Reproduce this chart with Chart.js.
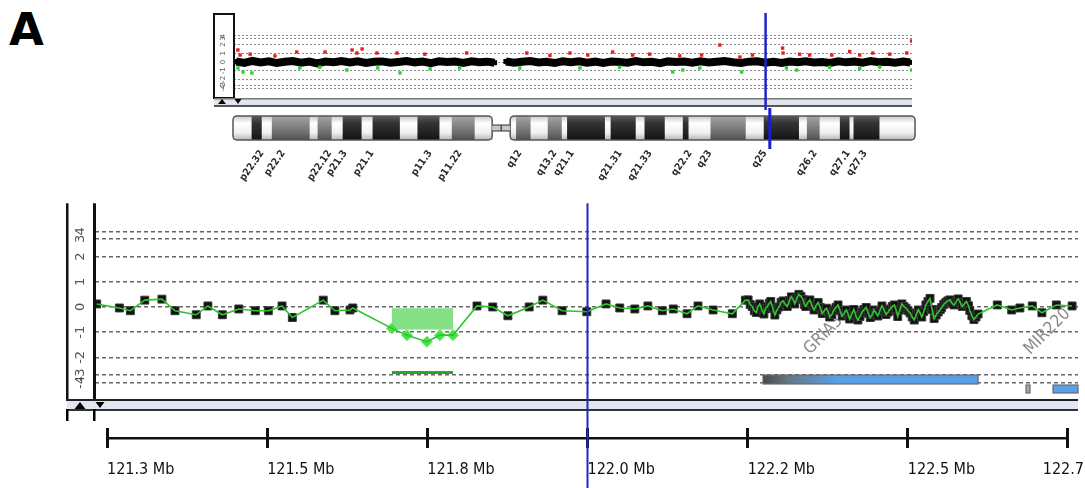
<!DOCTYPE html>
<html>
<head>
<meta charset="utf-8">
<script src="https://cdn.jsdelivr.net/npm/chart.js@4.4.1/dist/chart.umd.min.js"></script>
<style>
  html, body { margin: 0; padding: 0; background: #fff; overflow: hidden; width: 1085px; height: 488px; }
  .abs { position: absolute; }
  #panel { left: 9px; top: 3px; font: bold 45px "DejaVu Sans", sans-serif; color: #000; }
</style>
</head>
<body>
<div id="panel" class="abs">A</div>
<canvas id="overview" class="abs" width="1085" height="110" style="left:0;top:0"></canvas>
<canvas id="ideogram" class="abs" width="1085" height="80" style="left:0;top:108px"></canvas>
<canvas id="detail" class="abs" width="1200" height="300" style="left:0;top:188px"></canvas>
<script>
Chart.defaults.font.family = '"DejaVu Sans", sans-serif';
Chart.defaults.animation = false;

// log ratio axis ticks
var logTicks = [-4, -3, -2, -1, 0, 1, 2, 3, 4];
var logTickLabels = ['-4', '-3', '-2', '-1', '0', '1', '2', '3', '4'];

// whole chromosome X (Mb) - overview
var bandMb = [0.5, 2.4, 4.2, 6.1, 8.0, 9.8, 11.7, 13.5, 15.4, 17.3, 19.1, 21.0, 22.9, 24.7, 26.6, 28.4, 30.3, 32.2, 34.0, 35.9, 37.7, 39.6, 41.5, 43.3, 45.2, 47.0, 48.9, 50.8, 52.6, 54.5, 56.3, 58.2, 59.8,
  61.0,
  62.4, 64.3, 66.1, 68.0, 69.9, 71.7, 73.6, 75.4, 77.3, 79.2, 81.0, 82.9, 84.7, 86.6, 88.5, 90.3, 92.2, 94.0, 95.9, 97.8, 99.6, 101.5, 103.3, 105.2, 107.1, 108.9, 110.8, 112.6, 114.5, 116.4, 118.2, 120.1, 121.9, 123.8, 125.7, 127.5, 129.4, 131.2, 133.1, 135.0, 136.8, 138.7, 140.5, 142.4, 144.3, 146.1, 148.0, 149.8, 151.7, 153.6, 155.2];
var bandLog = [0.05, -0.10, 0.12, -0.05, 0.08, -0.12, 0.02, 0.10, -0.08, 0.04, -0.15, 0.06, -0.02, 0.12, -0.06, 0.09, -0.11, 0.03, 0.07, -0.09, 0.01, 0.11, -0.04, 0.06, -0.13, 0.08, -0.01, 0.05, -0.10, 0.09, -0.03, 0.04, -0.08,
  null,
  0.06, -0.09, 0.03, 0.10, -0.05, 0.02, -0.12, 0.07, -0.02, 0.09, -0.07, 0.04, -0.11, 0.06, 0.01, -0.08, 0.10, -0.04, 0.03, -0.13, 0.07, -0.01, 0.05, -0.09, 0.08, -0.06, 0.02, 0.11, -0.03, -0.10, 0.04, 0.08, -0.07, 0.03, -0.12, 0.06, -0.02, 0.09, -0.05, 0.01, -0.10, 0.07, -0.04, 0.05, -0.08, 0.10, -0.03, 0.02, -0.09, 0.06, -0.05];
var gainMb = [0.9, 1.4, 3.7, 9.4, 14.4, 20.9, 27.1, 28.2, 29.4, 32.8, 37.4, 43.8, 53.4, 67.2, 72.5, 77.1, 81.2, 86.9, 91.5, 95.4, 102.3, 107.3, 111.5, 116.1, 119.0, 125.9, 126.0, 129.8, 132.1, 137.2, 141.3, 143.6, 146.6, 150.5, 154.4, 155.5];
var gainLog = [1.38, 0.8, 0.9, 0.7, 1.15, 1.15, 1.38, 1.03, 1.5, 1.03, 1.03, 0.9, 1.03, 1.03, 0.75, 1.03, 0.8, 1.15, 0.8, 0.9, 0.7, 0.8, 1.95, 0.57, 0.8, 1.6, 1.03, 0.9, 0.8, 0.8, 1.2, 0.8, 1.03, 0.9, 1.03, 2.6];
var lossMb = [0.9, 2.1, 4.1, 15.1, 19.7, 25.9, 33.0, 38.1, 45.0, 51.8, 65.6, 79.4, 88.5, 100.7, 103.0, 106.9, 116.5, 126.8, 129.1, 136.7, 143.6, 148.2, 155.5];
var lossLog = [-0.69, -1.15, -1.26, -0.69, -0.6, -0.92, -0.69, -1.26, -0.8, -0.69, -0.7, -0.69, -0.6, -1.15, -0.92, -0.7, -1.15, -0.69, -0.92, -0.6, -0.75, -0.57, -0.92];

// ideogram bands (Mb) and shade: 0 = gneg, 1 = gpos50, 2 = gpos100
var bandStart = [0, 4.3, 6.6, 8.9, 17.5, 19.3, 22.5, 25.0, 29.3, 31.8, 38.0, 42.0, 47.0, 49.8, 55.0,
  63.0, 64.4, 67.7, 71.6, 74.8, 76.0, 84.6, 85.9, 91.6, 93.6, 98.2, 102.3, 103.6, 108.6, 116.6, 120.7, 128.7, 130.5, 133.4, 138.0, 140.2, 141.1, 147.0];
var bandEnd = [4.3, 6.6, 8.9, 17.5, 19.3, 22.5, 25.0, 29.3, 31.8, 38.0, 42.0, 47.0, 49.8, 55.0, 58.9,
  64.4, 67.7, 71.6, 74.8, 76.0, 84.6, 85.9, 91.6, 93.6, 98.2, 102.3, 103.6, 108.6, 116.6, 120.7, 128.7, 130.5, 133.4, 138.0, 140.2, 141.1, 147.0, 155.0];
var bandShade = [0, 2, 0, 1, 0, 1, 0, 2, 0, 2, 0, 2, 0, 1, 0,
  0, 1, 0, 1, 0, 2, 0, 2, 0, 2, 0, 2, 0, 1, 0, 2, 0, 1, 0, 2, 0, 2, 0];
var armStart = [0, 63.0];
var armEnd = [58.9, 155.0];
var bandLabels = ['p22.32', 'p22.2', 'p22.12', 'p21.3', 'p21.1', 'p11.3', 'p11.22', 'q12', 'q13.2', 'q21.1', 'q21.31', 'q21.33', 'q22.2', 'q23', 'q25', 'q26.2', 'q27.1', 'q27.3'];
var bandLabelMb = [6.6, 11.4, 22.0, 25.5, 31.6, 44.8, 51.6, 65.2, 73.2, 77.1, 88.0, 94.8, 103.9, 108.4, 120.9, 132.3, 139.8, 143.7];
var cursorMb = 122.0;

// zoomed region (Mb) probes
var detailMb = [121.285, 121.318, 121.334, 121.355, 121.380, 121.399, 121.430, 121.447, 121.468, 121.492, 121.516, 121.535, 121.555, 121.570, 121.615, 121.632, 121.654, 121.658,
  121.715, 121.737, 121.766, 121.785, 121.804,
  121.839, 121.862, 121.884, 121.915, 121.935, 121.963, 121.999, 122.027, 122.047, 122.069, 122.088, 122.109, 122.125, 122.145, 122.161, 122.183, 122.211, 122.230,
  122.234, 122.237, 122.240, 122.243, 122.246, 122.248, 122.251, 122.254, 122.257, 122.259, 122.262, 122.265, 122.267, 122.270, 122.273, 122.276, 122.279, 122.282, 122.285, 122.288,
  122.291, 122.294, 122.297, 122.300, 122.302, 122.305, 122.308, 122.311, 122.314, 122.316, 122.318, 122.321, 122.324, 122.327, 122.330, 122.333, 122.336, 122.339, 122.342, 122.345,
  122.348, 122.351, 122.353, 122.356, 122.359, 122.362, 122.365, 122.368, 122.371, 122.374, 122.377, 122.380, 122.382, 122.385, 122.388, 122.391, 122.394, 122.397, 122.400, 122.403,
  122.406, 122.409, 122.412, 122.415, 122.417, 122.420, 122.423, 122.426, 122.429, 122.432, 122.435, 122.438, 122.441, 122.444, 122.447, 122.450, 122.452, 122.455, 122.458, 122.461,
  122.464, 122.467, 122.470, 122.473, 122.476, 122.479, 122.482, 122.485, 122.487, 122.490, 122.493, 122.496, 122.499, 122.502, 122.505, 122.508, 122.511, 122.514, 122.516, 122.519,
  122.522, 122.525, 122.528, 122.531, 122.534, 122.537, 122.540, 122.543, 122.546, 122.549, 122.552, 122.555, 122.557, 122.560, 122.563, 122.566, 122.569,
  122.597, 122.618, 122.630, 122.648, 122.662, 122.683, 122.706];
var detailLog = [0.12, -0.04, -0.15, 0.27, 0.31, -0.15, -0.31, 0.04, -0.31, -0.08, -0.15, -0.15, 0.04, -0.42, 0.27, -0.15, -0.12, -0.04,
  -0.85, -1.12, -1.38, -1.12, -1.12,
  0.04, 0.00, -0.35, 0.00, 0.27, -0.15, -0.19, 0.12, -0.04, -0.08, 0.04, -0.15, -0.08, -0.27, 0.04, -0.12, -0.27, 0.27,
  0.28, 0.10, 0.02, -0.15, -0.22, 0.00, 0.12, -0.10, -0.28, -0.08, 0.02, 0.15, 0.22, -0.05, -0.32, -0.12, 0.00, 0.18, 0.24, 0.10,
  0.02, 0.25, 0.40, 0.28, 0.12, 0.35, 0.50, 0.42, 0.30, 0.10, 0.02, 0.18, 0.28, 0.05, -0.12, 0.05, 0.18, -0.02, -0.26, -0.15,
  -0.05, -0.22, -0.40, -0.30, -0.12, -0.02, 0.08, -0.15, -0.36, -0.25, -0.12, -0.30, -0.48, -0.28, -0.10, -0.35, -0.52, -0.38, -0.20, -0.10,
  -0.02, -0.25, -0.42, -0.30, -0.12, -0.22, -0.36, -0.15, 0.04, -0.12, -0.30, -0.20, -0.08, 0.02, 0.08, -0.15, -0.38, -0.12, 0.12, 0.02,
  -0.05, -0.15, -0.24, -0.40, -0.52, -0.30, -0.12, -0.25, -0.40, -0.18, 0.08, 0.22, 0.34, -0.10, -0.46, -0.32, -0.20, -0.10, -0.02, 0.10,
  0.18, 0.24, 0.28, 0.15, 0.08, 0.20, 0.32, 0.18, 0.02, 0.12, 0.22, 0.05, -0.14, -0.35, -0.50, -0.40, -0.28,
  0.08, -0.12, -0.04, 0.04, -0.23, 0.08, 0.04];

// aberration call
var segStart = [121.715];
var segEnd = [121.804];
var segMean = [-0.9];

// genes
var geneName = ['GRIA3', 'MIR220', ''];
var geneStart = [122.2557, 122.6389, 122.6782];
var geneEnd = [122.569, 122.6447, 122.7146];
var geneLabelMb = [122.324, 122.645, null];
var geneRow = [0, 1, 1];

// ruler
var rulerTicks = [121.3, 121.5333, 121.7667, 122.0, 122.2333, 122.4667, 122.7];
var rulerLabels = ['121.3 Mb', '121.5 Mb', '121.8 Mb', '122.0 Mb', '122.2 Mb', '122.5 Mb', '122.7 Mb'];

var condensed = '"DejaVu Sans Condensed", "DejaVu Sans", sans-serif';
var viewWidth = 1085;

// compressed log-ratio display
function squash(v) {
    if (v === null) return null;
    var a = Math.abs(v), s;
    if (a <= 2) s = a;
    else if (a <= 3) s = 2 + (a - 2) * 0.7;
    else if (a <= 4) s = 2.7 + (a - 3) * 0.3;
    else s = 3.0 + (a - 4) * 0.1;
    return v < 0 ? -s : s;
}

function logAxis(min, max, width, fontSize, pad, dash, lw, color) {
    return {
        min: min, max: max,
        afterFit: function (s) { s.width = width; },
        afterBuildTicks: function (s) { s.ticks = logTicks.map(function (v) { return { value: squash(v) }; }); },
        ticks: {
            autoSkip: false, minRotation: 90, maxRotation: 90, crossAlign: 'center', padding: pad,
            font: { size: fontSize }, color: '#555',
            callback: function (v, i) { return logTickLabels[i]; }
        },
        grid: { drawTicks: false, color: color, lineWidth: lw },
        border: { display: false, dash: dash }
    };
}

function triangle(ctx, x, y, up, w, h) {
    ctx.beginPath();
    if (up) { ctx.moveTo(x - w / 2, y + h); ctx.lineTo(x + w / 2, y + h); ctx.lineTo(x, y); }
    else { ctx.moveTo(x - w / 2, y); ctx.lineTo(x + w / 2, y); ctx.lineTo(x, y + h); }
    ctx.closePath();
    ctx.fill();
}

//overview
var overviewDecor = {
    id: 'overviewDecor',
    afterDraw: function (chart) {
        var ctx = chart.ctx, a = chart.chartArea, x = chart.scales.x;
        ctx.save();
        ctx.strokeStyle = '#111';
        ctx.lineWidth = 2;
        ctx.strokeRect(214, a.top, a.left - 214, a.bottom - a.top);
        ctx.fillStyle = '#e1e5ee';
        ctx.fillRect(214, a.bottom + 1, a.right - 214, 7);
        ctx.fillStyle = '#777';
        ctx.fillRect(214, a.bottom, a.right - 214, 1.5);
        ctx.fillStyle = '#555';
        ctx.fillRect(214, a.bottom + 7, a.right - 214, 2);
        ctx.fillStyle = '#000';
        triangle(ctx, 222, a.bottom + 1, true, 8, 5);
        triangle(ctx, 238, a.bottom + 1, false, 7, 5);
        var cx = x.getPixelForValue(cursorMb);
        ctx.strokeStyle = '#2020cc';
        ctx.lineWidth = 2.5;
        ctx.beginPath(); ctx.moveTo(cx, a.top - 1); ctx.lineTo(cx, chart.height); ctx.stroke();
        ctx.restore();
    }
};

new Chart(document.getElementById('overview'), {
    type: 'scatter',
    data: {
        datasets: [{
            data: gainMb.map(function (m, i) { return { x: m, y: squash(gainLog[i]) }; }),
            pointStyle: 'rect', pointRadius: 2.4, pointBackgroundColor: '#e3201b', pointBorderWidth: 0, order: 0
        }, {
            data: lossMb.map(function (m, i) { return { x: m, y: squash(lossLog[i]) }; }),
            pointStyle: 'rect', pointRadius: 2.4, pointBackgroundColor: '#2ed22e', pointBorderWidth: 0, order: 0
        }, {
            data: bandMb.map(function (m, i) { return { x: m, y: squash(bandLog[i]) }; }),
            showLine: true, spanGaps: false, borderColor: '#000', borderWidth: 8,
            pointStyle: 'rect', pointRadius: 3.5, pointBackgroundColor: '#000', pointBorderWidth: 0, order: 1
        }]
    },
    options: {
        responsive: false,
        events: [],
        layout: { padding: { left: 214, right: 173, top: 14, bottom: 12 } },
        plugins: { legend: { display: false }, tooltip: { enabled: false } },
        scales: {
            x: { type: 'linear', min: 0, max: 155.6, display: false },
            y: logAxis(-4.14, 5.52, 20, 7, 7, [2, 2], 1, '#8a8a8a')
        }
    },
    plugins: [overviewDecor]
});

//ideogram
var shadeStops = [
    ['#c9c9c9', '#ffffff', '#f0f0f0', '#b5b5b5'],
    ['#a5a5a5', '#8c8c8c', '#6e6e6e', '#4e4e4e'],
    ['#5a5a5a', '#333333', '#222222', '#111111']
];
function bandFill(c) {
    var a = c.chart.chartArea;
    var st = shadeStops[bandShade[c.dataIndex]];
    if (!a) return st[1];
    var g = c.chart.ctx.createLinearGradient(0, a.top, 0, a.bottom);
    g.addColorStop(0, st[0]); g.addColorStop(0.3, st[1]); g.addColorStop(0.7, st[2]); g.addColorStop(1, st[3]);
    return g;
}

var ideoDecor = {
    id: 'ideoDecor',
    afterDatasetsDraw: function (chart) {
        var ctx = chart.ctx, a = chart.chartArea, x = chart.scales.x;
        ctx.save();
        ctx.strokeStyle = '#555';
        ctx.lineWidth = 1.5;
        armStart.forEach(function (s, i) {
            var x0 = x.getPixelForValue(s), x1 = x.getPixelForValue(armEnd[i]);
            ctx.beginPath();
            ctx.roundRect(x0, a.top, x1 - x0, a.bottom - a.top, 4);
            ctx.stroke();
        });
        var n0 = x.getPixelForValue(armEnd[0]), n1 = x.getPixelForValue(armStart[1]);
        var cy = (a.top + a.bottom) / 2;
        ctx.fillStyle = '#c8c8c8';
        ctx.fillRect(n0, cy - 3, n1 - n0, 6);
        ctx.strokeStyle = '#333';
        ctx.lineWidth = 1.2;
        ctx.beginPath();
        ctx.moveTo(n0, cy - 3); ctx.lineTo(n1, cy - 3);
        ctx.moveTo(n0, cy + 3); ctx.lineTo(n1, cy + 3);
        ctx.moveTo((n0 + n1) / 2, cy - 3); ctx.lineTo((n0 + n1) / 2, cy + 3);
        ctx.stroke();
        var cx = x.getPixelForValue(cursorMb);
        ctx.strokeStyle = '#1d1dd2';
        ctx.lineWidth = 3;
        ctx.beginPath(); ctx.moveTo(cx, 0); ctx.lineTo(cx, a.bottom + 9); ctx.stroke();
        ctx.restore();
    }
};

new Chart(document.getElementById('ideogram'), {
    type: 'bar',
    data: {
        labels: ['X'],
        datasets: [{
            data: bandStart.map(function (s, i) { return { x: [s, bandEnd[i]], y: 'X' }; }),
            backgroundColor: bandFill, borderWidth: 0, barPercentage: 1, categoryPercentage: 1
        }]
    },
    options: {
        indexAxis: 'y',
        responsive: false,
        events: [],
        layout: { padding: { left: 233, right: 170, top: 8, bottom: 6 } },
        plugins: { legend: { display: false }, tooltip: { enabled: false } },
        scales: {
            x: {
                type: 'linear', min: 0, max: 155,
                afterFit: function (s) { s.height = 42; },
                afterBuildTicks: function (s) { s.ticks = bandLabelMb.map(function (v) { return { value: v }; }); },
                ticks: {
                    autoSkip: false, minRotation: 55, maxRotation: 55, padding: 0,
                    font: { size: 10, weight: 'bold', family: condensed }, color: '#2a2a2a',
                    callback: function (v, i) { return bandLabels[i]; }
                },
                grid: { display: false },
                border: { display: false }
            },
            y: { type: 'category', display: false }
        }
    },
    plugins: [ideoDecor]
});

//detail
function inSeg(m) {
    for (var i = 0; i < segStart.length; i++) {
        if (m >= segStart[i] - 0.001 && m <= segEnd[i] + 0.001) return true;
    }
    return false;
}

var detailDecor = {
    id: 'detailDecor',
    beforeDatasetsDraw: function (chart) {
        var ctx = chart.ctx, a = chart.chartArea, x = chart.scales.x, y = chart.scales.y;
        ctx.save();
        segStart.forEach(function (s, i) {
            var x0 = x.getPixelForValue(s), x1 = x.getPixelForValue(segEnd[i]);
            var y0 = y.getPixelForValue(squash(-0.05)), y1 = y.getPixelForValue(squash(segMean[i]));
            ctx.fillStyle = 'rgba(112, 220, 112, 0.85)';
            ctx.fillRect(x0, y0, x1 - x0, y1 - y0);
            ctx.fillStyle = '#2aa82a';
            ctx.fillRect(x0, a.bottom - 28, x1 - x0, 3);
        });
        // gene labels
        ctx.fillStyle = '#8a8a8a';
        ctx.font = '17px ' + condensed;
        ctx.textAlign = 'left';
        ctx.textBaseline = 'alphabetic';
        geneName.forEach(function (n, i) {
            if (!n) return;
            ctx.save();
            ctx.translate(x.getPixelForValue(geneLabelMb[i]), a.bottom - 44);
            ctx.rotate(-Math.PI / 4);
            ctx.fillText(n, 0, 0);
            ctx.restore();
        });
        // gene bars
        geneStart.forEach(function (s, i) {
            var x0 = x.getPixelForValue(s), x1 = Math.min(x.getPixelForValue(geneEnd[i]), a.right);
            var top = geneRow[i] === 0 ? a.bottom - 24 : a.bottom - 14;
            var h = geneRow[i] === 0 ? 9 : 8;
            if (x1 - x0 > 60) {
                var g = ctx.createLinearGradient(x0, 0, x1, 0);
                g.addColorStop(0, '#4a4a4a');
                g.addColorStop(0.12, '#667788');
                g.addColorStop(0.35, '#5aa0e6');
                g.addColorStop(1, '#5aa0e6');
                ctx.fillStyle = g;
            } else if (x1 - x0 < 8) {
                ctx.fillStyle = '#9aaabb';
            } else {
                ctx.fillStyle = '#5aa0e6';
            }
            ctx.fillRect(x0, top, x1 - x0, h);
            ctx.strokeStyle = '#6a6a6a';
            ctx.lineWidth = 1.2;
            ctx.strokeRect(x0, top, x1 - x0, h);
        });
        ctx.restore();
    },
    afterDraw: function (chart) {
        var ctx = chart.ctx, a = chart.chartArea, x = chart.scales.x, x2 = chart.scales.x2;
        ctx.save();
        // axis box
        ctx.fillStyle = '#111';
        ctx.fillRect(66, a.top, 2.5, a.bottom - a.top + 1);
        ctx.fillRect(a.left - 2, a.top, 3, a.bottom - a.top + 1);
        // scroll band
        ctx.fillStyle = '#e2e6f0';
        ctx.fillRect(67, a.bottom + 1, a.right - 67, 10);
        ctx.fillStyle = '#222';
        ctx.fillRect(66, a.bottom, a.right - 66, 2);
        ctx.fillStyle = '#333';
        ctx.fillRect(66, a.bottom + 10, a.right - 66, 2);
        ctx.fillStyle = '#000';
        triangle(ctx, 80, a.bottom + 3, true, 11, 7);
        triangle(ctx, 100, a.bottom + 3, false, 9, 6);
        ctx.fillRect(66, a.bottom + 10, 2.5, 12);
        ctx.fillRect(93, a.bottom + 10, 2.5, 12);
        // ruler line
        var last = rulerTicks.length - 1;
        var rx0 = x2.getPixelForValue(rulerTicks[0]), rx1 = x2.getPixelForValue(rulerTicks[last]);
        ctx.fillStyle = '#111';
        ctx.fillRect(rx0, x2.top + 9, rx1 - rx0, 2.5);
        // last ruler label is pulled back so its number stays in view
        ctx.font = '16px ' + condensed;
        ctx.textAlign = 'left';
        ctx.textBaseline = 'middle';
        var num = rulerLabels[last].split(' ')[0];
        var lx = Math.min(rx1, viewWidth - ctx.measureText(num).width - 1);
        ctx.fillText(rulerLabels[last], lx, x2.top + 20 + 12 + 9.6);
        // cursor
        var cx = x.getPixelForValue(cursorMb);
        ctx.strokeStyle = '#2525c8';
        ctx.lineWidth = 2;
        ctx.beginPath(); ctx.moveTo(cx, a.top); ctx.lineTo(cx, chart.height); ctx.stroke();
        ctx.restore();
    }
};

var detailPts = detailMb.map(function (m, i) { return { x: m, y: squash(detailLog[i]) }; });
var xMin = 121.2825, xMax = 122.7146;

new Chart(document.getElementById('detail'), {
    type: 'scatter',
    data: {
        datasets: [{
            data: detailPts, showLine: true, borderColor: '#2fc42f', borderWidth: 1.6, pointRadius: 0, order: 0
        }, {
            data: detailPts,
            pointStyle: function (c) { return inSeg(detailMb[c.dataIndex]) ? 'rectRot' : 'rect'; },
            pointRadius: 5.6,
            pointBackgroundColor: function (c) { return inSeg(detailMb[c.dataIndex]) ? '#46e246' : '#111'; },
            pointBorderColor: function (c) { return inSeg(detailMb[c.dataIndex]) ? '#7aea7a' : '#3a3a3a'; },
            pointBorderWidth: 1, order: 1
        }]
    },
    options: {
        responsive: false,
        events: [],
        layout: { padding: { left: 67, top: 9, right: 122, bottom: 4 } },
        plugins: { legend: { display: false }, tooltip: { enabled: false } },
        scales: {
            x: {
                type: 'linear', min: xMin, max: xMax,
                afterFit: function (s) { s.height = 29; },
                ticks: { display: false }, grid: { display: false }, border: { display: false }
            },
            x2: {
                type: 'linear', position: 'bottom', min: xMin, max: xMax,
                afterFit: function (s) { s.height = 56; },
                afterBuildTicks: function (s) { s.ticks = rulerTicks.map(function (v) { return { value: v }; }); },
                ticks: {
                    autoSkip: false, maxRotation: 0, minRotation: 0, align: 'start', padding: 12,
                    font: { size: 16, family: condensed }, color: '#111',
                    callback: function (v, i) { return i === rulerTicks.length - 1 ? '' : rulerLabels[i]; }
                },
                grid: { drawOnChartArea: false, tickLength: 20, tickWidth: 3, tickColor: '#111' },
                border: { display: false }
            },
            y: logAxis(-3.654, 4.115, 28, 13, 7.5, [4, 3], 1.5, '#666')
        }
    },
    plugins: [detailDecor]
});
</script>
</body>
</html>
